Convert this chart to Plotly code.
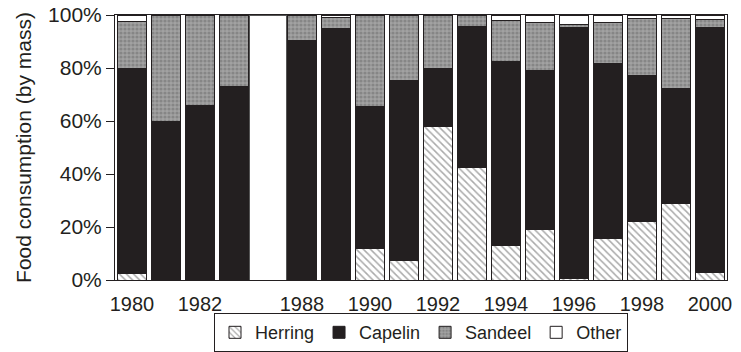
import plotly.graph_objects as go

years = ["1980", "1981", "1982", "1983", "break", "1988", "1989", "1990", "1991", "1992",
         "1993", "1994", "1995", "1996", "1997", "1998", "1999", "2000"]
herring = [2.5, 0, 0, 0, None, 0, 0, 12, 7.3, 58, 42.5, 13, 19, 0.5, 15.5, 22, 29, 2.8]
capelin = [77.5, 60, 66, 73, None, 90.5, 95, 53.5, 68, 22, 53, 69.5, 60, 94.7, 66.3, 55, 43.3, 92.4]
sandeel = [17.5, 40, 34, 27, None, 9.5, 4, 34.5, 24.7, 20, 4.5, 15.5, 18, 1.3, 15.2, 21.7, 26.4, 3.2]
other = [2.5, 0, 0, 0, None, 0, 1, 0, 0, 0, 0, 2, 3, 3.5, 3, 1.3, 1.3, 1.6]
gap_fill = [None, None, None, None, 100, None, None, None, None, None, None, None, None, None, None, None, None, None]
tick_labels = ["1980", "1982", "1988", "1990", "1992", "1994", "1996", "1998", "2000"]

pos = list(range(len(years)))
tick_pos = [years.index(t) for t in tick_labels]

FONT = "Liberation Sans, Arial, sans-serif"
INK = "#231f20"
BW = 0.87

fig = go.Figure()
line = dict(color=INK, width=1)
fig.add_trace(go.Bar(x=pos, y=herring, name="Herring", width=BW,
                     marker=dict(color="white", line=line,
                                 pattern=dict(shape="\\", fgcolor="#555555", bgcolor="white",
                                              size=5, solidity=0.3))))
fig.add_trace(go.Bar(x=pos, y=capelin, name="Capelin", width=BW,
                     marker=dict(color=INK, line=line)))
fig.add_trace(go.Bar(x=pos, y=sandeel, name="Sandeel", width=BW,
                     marker=dict(color="#949494", line=line,
                                 pattern=dict(shape=".", fgcolor="#6a6a6a", bgcolor="#a2a2a2",
                                              size=4, solidity=0.5))))
fig.add_trace(go.Bar(x=pos, y=other, name="Other", width=BW,
                     marker=dict(color="white", line=line)))
fig.add_trace(go.Bar(x=pos, y=gap_fill, name="", width=1.09, showlegend=False,
                     hoverinfo="skip",
                     marker=dict(color="white", line=dict(color="#555555", width=1))))

fig.update_layout(
    barmode="stack",
    width=741, height=352,
    margin=dict(l=115, r=14, t=15, b=72, autoexpand=False),
    paper_bgcolor="white", plot_bgcolor="white",
    font=dict(family=FONT, size=20, color=INK),
    showlegend=True,
    legend=dict(orientation="h", x=0.5, xanchor="center", y=-0.125, yanchor="top",
                bordercolor=INK, borderwidth=1, font=dict(size=18),
                traceorder="normal", itemwidth=30, tracegroupgap=0),
    xaxis=dict(range=[-0.5, 17.5], tickvals=tick_pos, ticktext=tick_labels,
               showgrid=False, zeroline=False, showline=True, linecolor=INK,
               linewidth=1, mirror=True, ticks="", ticklabelstandoff=6),
    yaxis=dict(range=[0, 100], tickvals=[0, 20, 40, 60, 80, 100],
               ticktext=["0%", "20%", "40%", "60%", "80%", "100%"],
               showgrid=False, zeroline=False, showline=True, linecolor=INK,
               linewidth=1, mirror=True, ticks="outside", ticklen=8, tickcolor=INK,
               tickfont=dict(size=21),
               title=dict(text="Food consumption (by mass)", standoff=10,
                          font=dict(size=21))),
)

fig.write_html("out.html")
